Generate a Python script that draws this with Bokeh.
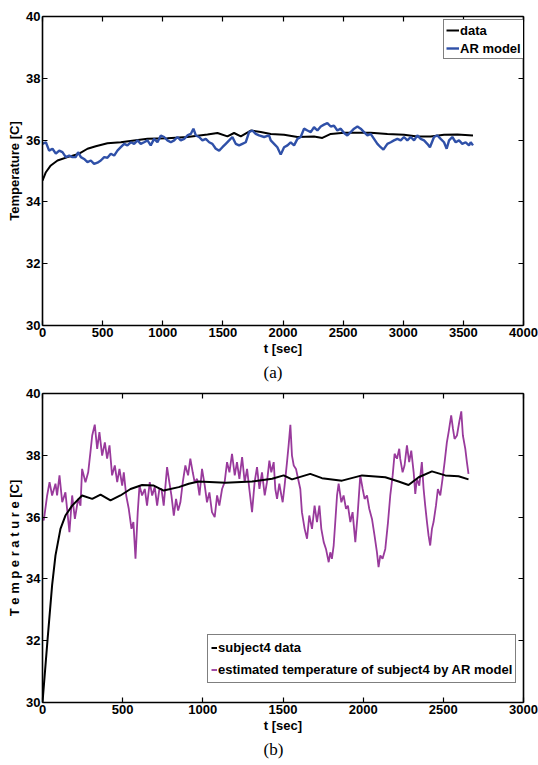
from bokeh.plotting import figure
from bokeh.layouts import column
from bokeh.models import (Range1d, FixedTicker, LinearAxis, Legend, LegendItem, Title)
from bokeh.embed import file_html
from bokeh.resources import INLINE

# ---------------- data: panel (a) ----------------
a_data_t = [0, 28, 69, 125, 208, 305, 374, 443, 540, 651, 762, 873, 1039, 1205, 1372, 1455,
            1538, 1593, 1649, 1732, 1815, 1898, 2009, 2120, 2258, 2327, 2397, 2508, 2729,
            2868, 3006, 3117, 3228, 3339, 3450, 3580]
a_data_T = [34.69, 34.96, 35.18, 35.34, 35.45, 35.56, 35.72, 35.80, 35.90, 35.93, 35.99, 36.04,
            36.06, 36.10, 36.18, 36.23, 36.12, 36.23, 36.12, 36.31, 36.26, 36.20, 36.17, 36.10,
            36.12, 36.07, 36.20, 36.24, 36.24, 36.20, 36.17, 36.12, 36.12, 36.17, 36.18, 36.15]

a_ar_t = [0, 28, 55, 83, 111, 139, 166, 194, 222, 249, 277, 296, 319, 346, 374, 402, 429, 457,
          485, 513, 540, 568, 596, 623, 651, 679, 706, 734, 762, 790, 817, 845, 873, 900, 928,
          956, 984, 1011, 1039, 1067, 1095, 1122, 1150, 1178, 1205, 1233, 1255, 1275, 1302,
          1330, 1358, 1386, 1413, 1441, 1469, 1496, 1524, 1552, 1579, 1607, 1635, 1662, 1690,
          1718, 1745, 1773, 1801, 1843, 1884, 1898, 1926, 1953, 1981, 2009, 2037, 2064, 2092,
          2120, 2147, 2175, 2203, 2231, 2258, 2286, 2314, 2341, 2369, 2397, 2424, 2452, 2480,
          2508, 2535, 2563, 2591, 2619, 2646, 2674, 2702, 2729, 2757, 2785, 2812, 2835, 2868,
          2896, 2923, 2951, 2979, 3006, 3034, 3062, 3090, 3117, 3145, 3173, 3200, 3222, 3256,
          3284, 3311, 3339, 3361, 3381, 3408, 3436, 3464, 3491, 3519, 3547, 3561, 3580]
a_ar_T = [35.88, 35.93, 35.66, 35.72, 35.56, 35.66, 35.61, 35.45, 35.50, 35.45, 35.45, 35.61,
          35.45, 35.39, 35.29, 35.34, 35.23, 35.27, 35.34, 35.45, 35.43, 35.56, 35.50, 35.66,
          35.77, 35.88, 35.83, 35.93, 35.88, 35.99, 35.88, 35.93, 35.99, 35.83, 36.04, 35.93,
          36.15, 36.10, 35.99, 35.93, 35.99, 36.10, 35.99, 36.04, 36.15, 36.20, 36.37, 36.15,
          36.10, 35.99, 36.04, 35.93, 35.88, 35.72, 35.66, 35.77, 35.88, 35.99, 36.10, 35.88,
          35.83, 35.88, 35.93, 36.26, 36.31, 36.20, 36.15, 36.10, 36.15, 35.99, 35.88, 35.77,
          35.53, 35.77, 35.83, 35.93, 35.83, 36.04, 36.10, 36.37, 36.31, 36.26, 36.42, 36.31,
          36.44, 36.50, 36.55, 36.44, 36.47, 36.31, 36.37, 36.23, 36.15, 36.26, 36.37, 36.44,
          36.37, 36.26, 36.15, 36.20, 36.04, 35.88, 35.77, 35.69, 35.88, 35.93, 35.99, 36.04,
          35.99, 36.10, 35.99, 36.10, 35.99, 36.15, 36.04, 35.99, 35.88, 35.77, 36.10, 36.15,
          36.04, 35.93, 35.72, 35.99, 36.10, 35.93, 35.99, 35.88, 35.93, 35.83, 35.93, 35.83]

a_xticks = [0, 500, 1000, 1500, 2000, 2500, 3000, 3500, 4000]
a_yticks = [30, 32, 34, 36, 38, 40]

# ---------------- data: panel (b) ----------------
b_data_t = [0, 31, 60, 81, 112, 143, 185, 247, 310, 362, 424, 486, 549, 621, 694, 756, 850,
            912, 974, 1141, 1307, 1432, 1504, 1556, 1670, 1743, 1868, 1993, 2138, 2221, 2283,
            2346, 2429, 2512, 2595, 2657]
b_data_T = [30.0, 32.0, 33.8, 34.76, 35.62, 36.05, 36.37, 36.70, 36.59, 36.73, 36.54, 36.70,
            36.91, 37.04, 37.02, 36.86, 36.97, 37.08, 37.15, 37.11, 37.15, 37.24, 37.35, 37.22,
            37.40, 37.26, 37.18, 37.35, 37.29, 37.15, 37.04, 37.29, 37.48, 37.35, 37.32, 37.22]

b_est_t = [0, 8, 29, 44, 60, 81, 91, 106, 123, 143, 168, 185, 202, 222, 237, 247, 268, 285,
           299, 310, 326, 341, 355, 372, 389, 403, 418, 434, 451, 466, 480, 497, 507, 522, 538,
           555, 567, 580, 594, 605, 621, 638, 652, 669, 684, 700, 715, 729, 742, 756, 777, 791,
           804, 819, 833, 846, 860, 875, 891, 908, 922, 937, 949, 964, 979, 995, 1012, 1026,
           1041, 1057, 1074, 1089, 1103, 1120, 1136, 1151, 1166, 1182, 1199, 1213, 1228, 1245,
           1261, 1276, 1290, 1307, 1323, 1338, 1353, 1369, 1386, 1400, 1415, 1427, 1442, 1452,
           1463, 1477, 1490, 1498, 1510, 1525, 1535, 1546, 1556, 1567, 1581, 1594, 1608, 1618,
           1635, 1650, 1664, 1681, 1697, 1712, 1727, 1739, 1754, 1768, 1785, 1795, 1805, 1816,
           1826, 1837, 1847, 1864, 1878, 1893, 1905, 1920, 1934, 1951, 1965, 1982, 1997, 2009,
           2024, 2038, 2055, 2071, 2086, 2096, 2107, 2121, 2138, 2155, 2169, 2184, 2196, 2211,
           2225, 2231, 2246, 2258, 2273, 2287, 2300, 2315, 2325, 2335, 2350, 2366, 2377, 2387,
           2398, 2408, 2418, 2429, 2439, 2454, 2466, 2481, 2495, 2508, 2522, 2533, 2549, 2560,
           2570, 2585, 2599, 2612, 2622, 2637, 2647, 2657]
b_est_T = [36.00, 35.89, 36.70, 37.13, 36.70, 37.08, 36.70, 37.35, 36.48, 36.80, 35.51, 36.70,
           35.94, 36.59, 36.37, 37.56, 37.13, 37.45, 38.10, 38.64, 38.99, 38.21, 38.75, 37.99,
           38.42, 37.89, 38.32, 37.35, 37.67, 37.13, 37.56, 37.02, 37.45, 36.70, 36.27, 35.62,
           35.84, 34.65, 36.16, 37.02, 36.70, 36.91, 36.37, 37.13, 36.70, 36.97, 36.37, 36.91,
           36.91, 36.37, 37.62, 37.13, 36.70, 36.05, 36.59, 36.21, 36.48, 37.13, 37.67, 37.35,
           37.89, 37.45, 37.13, 37.24, 36.70, 37.56, 37.02, 36.48, 36.80, 36.16, 36.00, 36.70,
           36.37, 36.91, 37.13, 37.78, 37.45, 38.05, 37.35, 37.78, 37.24, 37.94, 37.13, 37.56,
           36.91, 36.16, 37.13, 37.62, 36.91, 37.45, 36.70, 37.13, 37.83, 37.45, 37.78, 36.91,
           36.59, 37.08, 36.70, 36.48, 37.02, 37.78, 38.32, 38.99, 37.99, 37.67, 37.56, 37.24,
           36.91, 36.16, 35.62, 35.30, 36.05, 35.62, 36.37, 35.84, 36.37, 35.62, 35.19, 34.97,
           34.54, 34.86, 34.65, 35.08, 35.84, 36.70, 37.08, 36.48, 36.70, 36.27, 36.37, 35.84,
           36.16, 35.19, 36.05, 37.35, 36.91, 36.59, 36.70, 36.27, 35.94, 35.40, 34.86, 34.38,
           34.76, 34.65, 34.97, 35.84, 36.70, 37.35, 38.05, 37.89, 38.21, 37.89, 37.45, 37.67,
           38.32, 37.78, 38.15, 37.45, 36.75, 37.24, 37.02, 37.78, 36.91, 36.37, 35.84, 35.40,
           35.08, 35.62, 35.84, 36.37, 36.91, 36.70, 37.24, 37.78, 38.42, 38.75, 39.29, 38.86,
           38.53, 38.64, 39.07, 39.42, 38.64, 38.21, 37.78, 37.40]

b_xticks = [0, 500, 1000, 1500, 2000, 2500, 3000]
b_yticks = [30, 32, 34, 36, 38, 40]

FONT = "Liberation Sans"


def style_axis(ax, ticks, show_labels=True, label=None):
    ax.ticker = FixedTicker(ticks=ticks)
    ax.major_tick_in = 5
    ax.major_tick_out = 0
    ax.minor_tick_in = 0
    ax.minor_tick_out = 0
    ax.axis_line_color = "black"
    ax.axis_line_width = 1.6
    ax.major_tick_line_color = "black"
    ax.major_tick_line_width = 1.2
    ax.major_label_standoff = 2
    if show_labels:
        ax.major_label_text_font = FONT
        ax.major_label_text_font_style = "bold"
        ax.major_label_text_font_size = "13px"
        ax.major_label_text_color = "black"
    else:
        ax.major_label_overrides = {t: "" for t in ticks}
        ax.major_label_text_font_size = "1px"
        ax.major_label_standoff = 0
    if label is not None:
        ax.axis_label = label
        ax.axis_label_text_font = FONT
        ax.axis_label_text_font_style = "bold"
        ax.axis_label_text_font_size = "13px"
        ax.axis_label_text_color = "black"
        ax.axis_label_standoff = 1


def make_panel(xmax, xticks, yticks, top_border, bottom_border, ylabel, tag):
    p = figure(frame_width=481, frame_height=309,
               x_range=Range1d(0, xmax), y_range=Range1d(30, 40),
               output_backend="svg", toolbar_location=None,
               min_border_left=42, min_border_right=15,
               min_border_top=top_border, min_border_bottom=bottom_border,
               x_axis_location="below", y_axis_location="left")
    p.xgrid.visible = False
    p.ygrid.visible = False
    p.outline_line_color = None
    p.background_fill_color = "white"
    p.border_fill_color = "white"
    style_axis(p.xaxis[0], xticks, True, "t [sec]")
    style_axis(p.yaxis[0], yticks, True, ylabel)
    top_ax = LinearAxis()
    style_axis(top_ax, xticks, False)
    p.add_layout(top_ax, "above")
    right_ax = LinearAxis()
    style_axis(right_ax, yticks, False)
    p.add_layout(right_ax, "right")
    t = Title(text=tag, align="left", offset=221, text_font="Liberation Serif",
              text_font_style="normal", text_font_size="17px", text_color="black",
              standoff=4)
    p.add_layout(t, "below")
    return p


# ---------------- panel (a) ----------------
p1 = make_panel(4000, a_xticks, a_yticks, 16, 61, "Temperature [C]", "(a)")
r1 = p1.line(a_data_t, a_data_T, line_color="black", line_width=2)
r2 = p1.line(a_ar_t, a_ar_T, line_color="#2F50A8", line_width=2.4)
leg1 = Legend(items=[LegendItem(label="data", renderers=[r1]),
                     LegendItem(label="AR model", renderers=[r2])],
              location=(401, 266), border_line_color="black", border_line_width=1,
              background_fill_color="white", background_fill_alpha=1,
              label_text_font=FONT, label_text_font_style="bold",
              label_text_font_size="13px", label_text_color="black",
              glyph_width=13, glyph_height=16, label_height=16, label_standoff=1,
              padding=2, spacing=2, margin=0)
p1.add_layout(leg1)

# ---------------- panel (b) ----------------
p2 = make_panel(3000, b_xticks, b_yticks, 7, 63, "T e m p e r a t u r e [C]", "(b)")
r3 = p2.line(b_est_t, b_est_T, line_color="#993A9C", line_width=1.8)
r4 = p2.line(b_data_t, b_data_T, line_color="black", line_width=2)
leg2 = Legend(items=[LegendItem(label="subject4 data", renderers=[r4]),
                     LegendItem(label="estimated temperature of subject4 by AR model", renderers=[r3])],
              location=(165, 19), border_line_color="black", border_line_width=1,
              background_fill_color="white", background_fill_alpha=1,
              label_text_font=FONT, label_text_font_style="bold",
              label_text_font_size="13px", label_text_color="black",
              glyph_width=6, glyph_height=19, label_height=19, label_standoff=1,
              padding=3, spacing=3, margin=0)
p2.add_layout(leg2)

layout = column(p1, p2, spacing=0)
open("out.html", "w").write(file_html(layout, INLINE))
